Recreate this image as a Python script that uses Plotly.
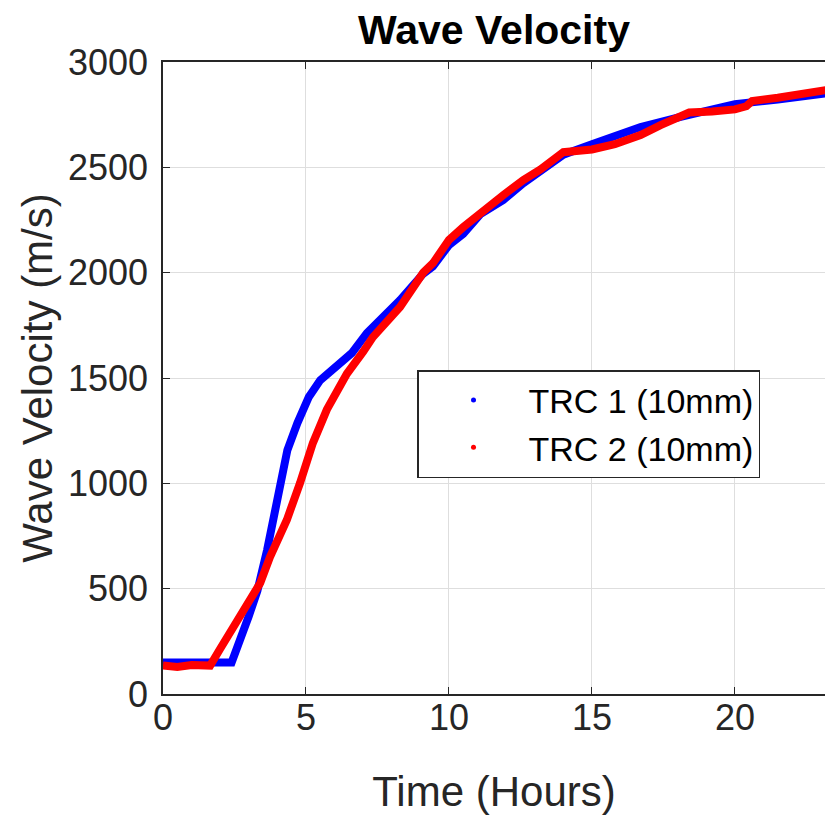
import plotly.graph_objects as go

# ---- data ----
trc1_time = [0, 1.0, 2.0, 2.4, 3.0, 3.3, 3.64, 3.75, 4.1, 4.35, 4.7, 5.1, 5.5, 5.9,
             6.2, 6.6, 7.13, 8.29, 9.1, 9.44, 10.0, 10.5, 11.1, 11.9, 12.6, 14.0,
             15.0, 16.7, 18.1, 20.0, 21.5, 23.2]
trc1_vel = [150, 152, 148, 150, 370, 490, 683, 760, 1000, 1158, 1286, 1410, 1490, 1538,
            1580, 1618, 1713, 1870, 1995, 2030, 2131, 2184, 2278, 2345, 2425, 2560,
            2610, 2691, 2739, 2800, 2822, 2852]

trc2_time = [0, 0.5, 1.0, 1.65, 2.0, 2.45, 3.04, 3.4, 3.74, 3.85, 4.33, 4.79, 5.24, 5.73,
             6.19, 6.43, 7.0, 7.34, 8.29, 9.1, 9.44, 10.0, 10.5, 11.08, 11.9, 12.6,
             13.2, 14.0, 14.5, 15.0, 15.8, 16.7, 17.4, 18.1, 18.4, 19.2, 20.0, 20.4,
             20.6, 21.5, 22.3, 23.2]
trc2_vel = [135, 128, 138, 135, 215, 314, 432, 527, 650, 683, 826, 1001, 1191, 1350,
            1470, 1520, 1625, 1694, 1837, 2000, 2045, 2155, 2216, 2283, 2368, 2440,
            2490, 2572, 2580, 2585, 2610, 2653, 2700, 2739, 2760, 2765, 2775, 2790,
            2815, 2830, 2845, 2867]

series_names = ["TRC 1 (10mm)", "TRC 2 (10mm)"]
series_colors = ["#0000ff", "#ff0000"]

x_ticks = [0, 5, 10, 15, 20]
y_ticks = [0, 500, 1000, 1500, 2000, 2500, 3000]

FONT = "Liberation Sans, Arial, Helvetica, sans-serif"
DARK = "#262626"

fig = go.Figure()
for t, v, name, col in [(trc1_time, trc1_vel, series_names[0], series_colors[0]),
                        (trc2_time, trc2_vel, series_names[1], series_colors[1])]:
    fig.add_trace(go.Scatter(x=t, y=v, mode="lines", line=dict(color=col, width=8),
                             showlegend=False, legendgroup=name))
for name, col in zip(series_names, series_colors):
    fig.add_trace(go.Scatter(x=[None], y=[None], mode="markers", name=name,
                             marker=dict(color=col, size=5), legendgroup=name))

fig.update_layout(
    width=825, height=817,
    margin=dict(l=163, r=0, t=62, b=123),
    paper_bgcolor="white", plot_bgcolor="white",
    font=dict(family=FONT, color=DARK),
    title=dict(text="<b>Wave Velocity</b>", x=(163 + 825) / 2 / 825, xanchor="center",
               y=1 - 30 / 817, yanchor="middle",
               font=dict(family=FONT, size=41, color="#000000")),
    legend=dict(x=(417 - 163) / 662, y=(694 - 370) / 632, xanchor="left", yanchor="top",
                bgcolor="white", bordercolor=DARK, borderwidth=1.5,
                font=dict(family=FONT, size=34, color="#000000"),
                itemwidth=100, tracegroupgap=0),
)
fig.update_xaxes(
    range=[0, 23.15], tickvals=x_ticks, ticks="inside", ticklen=7, tickcolor=DARK,
    showline=True, linecolor=DARK, linewidth=1.5, mirror="ticks",
    showgrid=True, gridcolor="#dedede", gridwidth=1, zeroline=False,
    tickfont=dict(family=FONT, size=36, color=DARK), ticklabelstandoff=-9,
    title=dict(text="Time (Hours)", font=dict(family=FONT, size=42, color=DARK), standoff=40),
)
fig.update_yaxes(
    range=[0, 3000], tickvals=y_ticks, ticks="inside", ticklen=7, tickcolor=DARK,
    showline=True, linecolor=DARK, linewidth=1.5, mirror=False,
    showgrid=True, gridcolor="#dedede", gridwidth=1, zeroline=False,
    tickfont=dict(family=FONT, size=36, color=DARK), ticklabelstandoff=6,
    title=dict(text="Wave Velocity (m/s)", font=dict(family=FONT, size=42, color=DARK), standoff=2),
)

fig.write_html("out.html", config={"displayModeBar": False},
               post_script="document.body.style.margin='0px';")
